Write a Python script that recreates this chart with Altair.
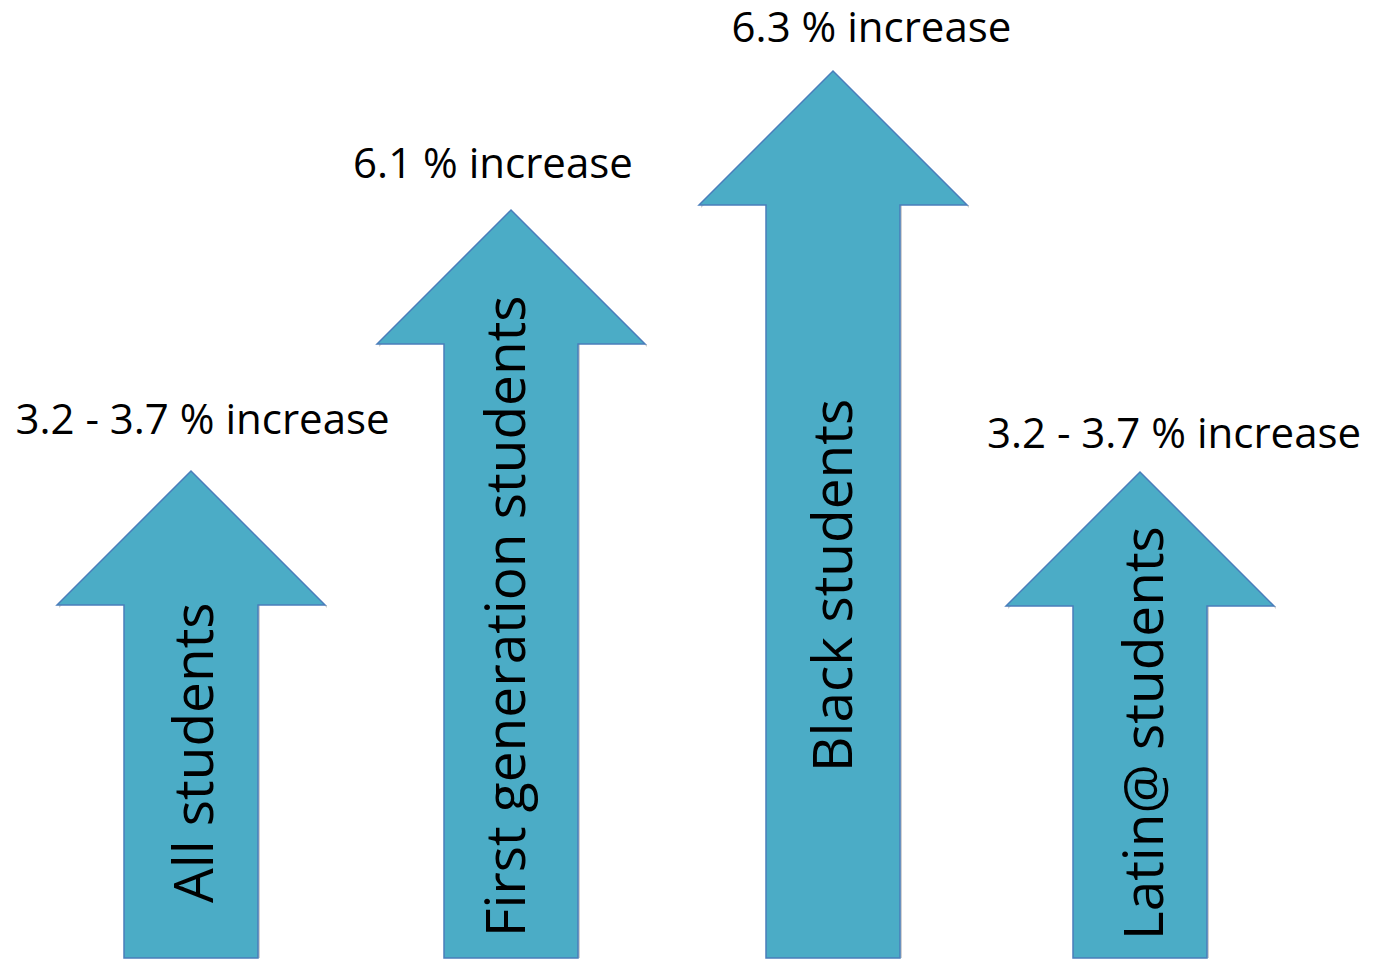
import altair as alt
import pandas as pd

# ---- data ----
groups = ["All students", "First generation students", "Black students", "Latin@ students"]
increase_labels = ["3.2 - 3.7 % increase", "6.1 % increase", "6.3 % increase", "3.2 - 3.7 % increase"]
arrow_center = [191, 511, 833, 1140]      # horizontal position of each arrow
arrow_top = [488, 749, 888, 487]          # arrow height (tip) above the baseline
label_x = [202.5, 493, 871.5, 1174]       # centre of the increase label
label_y = [525, 781, 917, 511]            # baseline height of the increase label
name_x = [213, 525, 852, 1163]            # baseline of the rotated group name
name_y = [56, 22, 187, 19]                # start height of the rotated group name

HEAD_HALF = 134
SHAFT_HALF = 67
HEAD_LEN = 134
BOTTOM = 1

rows = []
for g, c, t in zip(groups, arrow_center, arrow_top):
    base = t - HEAD_LEN
    step = base + (HEAD_HALF - SHAFT_HALF)
    pts = [
        (c - HEAD_HALF, base, base),
        (c - SHAFT_HALF, step, base),
        (c - SHAFT_HALF, step, BOTTOM),
        (c, t, BOTTOM),
        (c + SHAFT_HALF, step, BOTTOM),
        (c + SHAFT_HALF, step, base),
        (c + HEAD_HALF, base, base),
    ]
    for i, (x, top, bot) in enumerate(pts):
        rows.append({"group": g, "i": i, "x": x, "top": top, "bot": bot})
arrows = pd.DataFrame(rows)

labels = pd.DataFrame({"text": increase_labels, "x": label_x, "y": label_y})
names = pd.DataFrame({"text": groups, "x": name_x, "y": name_y})

xs = alt.Scale(domain=[8, 1367], nice=False, zero=False)
ys = alt.Scale(domain=[0, 951], nice=False, zero=False)

enc_arrow = dict(
    x=alt.X("x:Q", scale=xs, axis=None),
    y=alt.Y("top:Q", scale=ys, axis=None, stack=None),
    y2="bot:Q",
    detail="group:N",
)

shadow = alt.Chart(arrows).mark_area(
    orient="vertical", color="#000000", opacity=0.18, xOffset=2, yOffset=3
).encode(**enc_arrow)

body = alt.Chart(arrows).mark_area(
    orient="vertical", fill="#4BACC6", stroke="#4A7EBB", strokeWidth=1.5, opacity=1
).encode(**enc_arrow)

inc = alt.Chart(labels).mark_text(
    font="Open Sans", fontSize=42, color="#000000", align="center", baseline="alphabetic"
).encode(
    x=alt.X("x:Q", scale=xs, axis=None),
    y=alt.Y("y:Q", scale=ys, axis=None),
    text="text:N",
)

nm = alt.Chart(names).mark_text(
    font="Open Sans", fontSize=55, color="#000000", align="left", baseline="alphabetic", angle=270
).encode(
    x=alt.X("x:Q", scale=xs, axis=None),
    y=alt.Y("y:Q", scale=ys, axis=None),
    text="text:N",
)

chart = alt.layer(shadow, body, inc, nm).properties(
    width=1359, height=951, padding=0, autosize=alt.AutoSizeParams(type="none"),
    background="white",
).configure_view(stroke=None)

chart.save("out.html", embed_options={"renderer": "svg", "actions": False})
